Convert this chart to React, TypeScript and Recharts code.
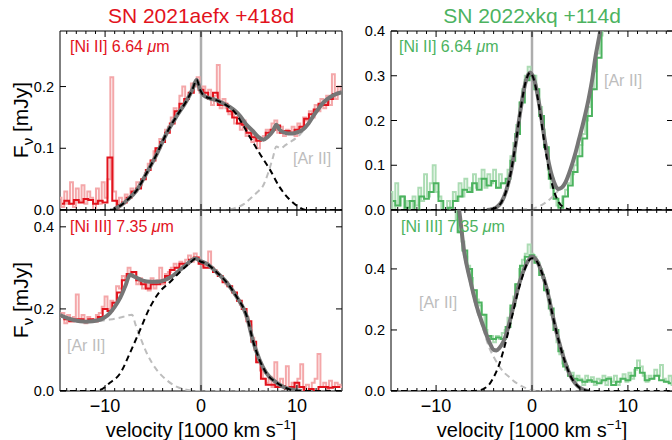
import React from 'react';
import { ComposedChart, Line, XAxis, YAxis, ReferenceLine, ReferenceArea } from 'recharts';

// velocity grids [1000 km/s]
const velocityFine = [
  -14.7, -14.4, -14.1, -13.8, -13.5, -13.2, -12.9, -12.6, -12.3, -12.0,
  -11.7, -11.4, -11.1, -10.8, -10.5, -10.2, -9.9, -9.6, -9.3, -9.0,
  -8.7, -8.4, -8.1, -7.8, -7.5, -7.2, -6.9, -6.6, -6.3, -6.0,
  -5.7, -5.4, -5.1, -4.8, -4.5, -4.2, -3.9, -3.6, -3.3, -3.0,
  -2.7, -2.4, -2.1, -1.8, -1.5, -1.2, -0.9, -0.6, -0.3, 0.0,
  0.3, 0.6, 0.9, 1.2, 1.5, 1.8, 2.1, 2.4, 2.7, 3.0,
  3.3, 3.6, 3.9, 4.2, 4.5, 4.8, 5.1, 5.4, 5.7, 6.0,
  6.3, 6.6, 6.9, 7.2, 7.5, 7.8, 8.1, 8.4, 8.7, 9.0,
  9.3, 9.6, 9.9, 10.2, 10.5, 10.8, 11.1, 11.4, 11.7, 12.0,
  12.3, 12.6, 12.9, 13.2, 13.5, 13.8, 14.1, 14.4, 14.7,
];

const velocityBinned = [
  -14.5, -14, -13.5, -13, -12.5, -12, -11.5, -11, -10.5, -10,
  -9.5, -9, -8.5, -8, -7.5, -7, -6.5, -6, -5.5, -5,
  -4.5, -4, -3.5, -3, -2.5, -2, -1.5, -1, -0.5, 0,
  0.5, 1, 1.5, 2, 2.5, 3, 3.5, 4, 4.5, 5,
  5.5, 6, 6.5, 7, 7.5, 8, 8.5, 9, 9.5, 10,
  10.5, 11, 11.5, 12, 12.5, 13, 13.5, 14, 14.5,
];

const xTicks = [
  -14, -13, -12, -11, -10, -9, -8, -7, -6, -5, -4, -3, -2, -1, 0,
  1, 2, 3, 4, 5, 6, 7, 8, 9, 10, 11, 12, 13, 14,
];
const xMajor = [-10, 0, 10];

// SN 2021aefx, [Ni II] 6.64 um
const fine21NiII = [
  0.02, 0.005, 0.03, 0.01, 0.045, 0.005, 0.035, 0.015, 0.04, 0.01,
  0.03, 0.02, 0.0, 0.035, 0.01, 0.045, 0.02, 0.05, 0.215, 0.03,
  0.0, 0.02, 0.01, 0.025, 0.02, 0.035, 0.03, 0.045, 0.04, 0.05,
  0.06, 0.075, 0.08, 0.095, 0.1, 0.115, 0.11, 0.13, 0.135, 0.15,
  0.165, 0.16, 0.185, 0.2, 0.18, 0.19, 0.205, 0.2, 0.215, 0.19,
  0.2, 0.185, 0.195, 0.17, 0.185, 0.235, 0.165, 0.18, 0.165, 0.155,
  0.16, 0.14, 0.15, 0.13, 0.145, 0.12, 0.125, 0.11, 0.12, 0.1,
  0.115, 0.12, 0.13, 0.125, 0.14, 0.145, 0.125, 0.135, 0.12, 0.13,
  0.125, 0.135, 0.12, 0.14, 0.13, 0.15, 0.145, 0.16, 0.15, 0.17,
  0.16, 0.18, 0.165, 0.185, 0.17, 0.22, 0.18, 0.2, 0.19,
];
const binned21NiII = [
  0.01, 0.015, 0.01, 0.016, 0.012, 0.018, 0.016, 0.01, 0.015, 0.012,
  0.085, 0.015, 0.008, 0.012, 0.02, 0.03, 0.035, 0.05, 0.065, 0.08,
  0.1, 0.11, 0.125, 0.14, 0.16, 0.172, 0.18, 0.19, 0.205, 0.195,
  0.19, 0.18, 0.19, 0.17, 0.172, 0.16, 0.15, 0.14, 0.138, 0.125,
  0.118, 0.112, 0.115, 0.125, 0.13, 0.137, 0.125, 0.128, 0.125, 0.13,
  0.135, 0.148, 0.155, 0.163, 0.172, 0.17, 0.18, 0.188, 0.19,
];
const ni21NiII = [
  [-14.7, 0], [-10, 0], [-9.1, 0.001], [-8.4, 0.007], [-7.7, 0.016], [-6.7, 0.032],
  [-5.7, 0.059], [-4.6, 0.091], [-3.6, 0.124], [-2.5, 0.153], [-1.5, 0.177],
  [-0.9, 0.195], [-0.45, 0.211], [-0.1, 0.195], [0.25, 0.186], [0.9, 0.181],
  [1.6, 0.178], [2.3, 0.173], [3.0, 0.166], [3.6, 0.157], [4.1, 0.145],
  [5.1, 0.118], [6.1, 0.092], [7.2, 0.065], [8.2, 0.037], [9.3, 0.016],
  [10.3, 0.004], [11, 0], [14.7, 0],
];
const total21NiII = [
  [-9.1, 0.001], [-8.4, 0.007], [-7.7, 0.016], [-6.7, 0.032], [-5.7, 0.059],
  [-4.6, 0.091], [-3.6, 0.124], [-2.5, 0.153], [-1.5, 0.177], [-0.9, 0.195],
  [-0.45, 0.211], [-0.1, 0.195], [0.25, 0.186], [0.9, 0.181], [1.6, 0.178],
  [2.3, 0.173], [3.0, 0.167], [3.6, 0.16], [4.1, 0.152], [4.7, 0.139],
  [5.4, 0.128], [6.0, 0.118], [6.5, 0.114], [7.0, 0.119], [7.5, 0.128],
  [7.85, 0.138], [8.2, 0.13], [8.6, 0.126], [9.1, 0.124], [9.6, 0.124],
  [10.1, 0.126], [10.6, 0.13], [11.2, 0.14], [11.7, 0.152], [12.2, 0.163],
  [12.7, 0.173], [13.2, 0.18], [13.8, 0.186], [14.7, 0.191],
];
const ar21NiII = [
  [-14.7, 0], [2.5, 0], [3.5, 0.003], [4.5, 0.01], [5.1, 0.018], [5.8, 0.028],
  [6.5, 0.04], [7.0, 0.06], [7.5, 0.085], [7.85, 0.103], [8.3, 0.1], [8.8, 0.105],
  [9.3, 0.11], [10.3, 0.122], [11.2, 0.14], [11.7, 0.152], [12.2, 0.163],
  [12.7, 0.173], [13.2, 0.18], [13.8, 0.186], [14.7, 0.191],
];

// SN 2022xkq, [Ni II] 6.64 um
const fine22NiII = [
  0.04, 0.0, 0.06, 0.01, 0.03, 0.0, 0.02, -0.01, 0.03, 0.01,
  0.05, 0.02, 0.08, 0.03, 0.06, 0.1, 0.04, 0.03, 0.0, -0.01,
  0.02, 0.0, 0.04, 0.02, 0.06, 0.03, 0.07, 0.05, 0.04, 0.08,
  0.05, 0.07, 0.09, 0.05, 0.08, 0.06, 0.09, 0.05, 0.08, 0.06,
  0.06, 0.09, 0.12, 0.15, 0.19, 0.24, 0.27, 0.3, 0.32, 0.3,
  0.3, 0.27, 0.23, 0.18, 0.14, 0.09, 0.05, 0.025, 0.01, 0.015,
  0.03, 0.045, 0.06, 0.08, 0.1, 0.12, 0.145, 0.17, 0.2, 0.23,
  0.27, 0.31, 0.35, 0.39, 0.44, 0.5, 0.55, 0.6, 0.6, 0.6,
  0.6, 0.6, 0.6, 0.6, 0.6, 0.6, 0.6, 0.6, 0.6, 0.6,
  0.6, 0.6, 0.6, 0.6, 0.6, 0.6, 0.6, 0.6, 0.6,
];
const binned22NiII = [
  0.02, 0.01, 0.03, 0.005, 0.02, 0.0, 0.03, 0.025, 0.04, 0.06,
  0.02, 0.0, 0.005, 0.02, 0.03, 0.045, 0.04, 0.06, 0.045, 0.07,
  0.055, 0.065, 0.05, 0.06, 0.07, 0.11, 0.17, 0.24, 0.29, 0.3,
  0.27, 0.21, 0.14, 0.07, 0.025, 0.005, 0.03, 0.055, 0.085, 0.12,
  0.16, 0.21, 0.27, 0.34, 0.41, 0.48, 0.5, 0.5, 0.5, 0.5,
  0.5, 0.5, 0.5, 0.5, 0.5, 0.5, 0.5, 0.5, 0.5,
];
const ni22NiII = [
  [-14.7, 0], [-4.7, 0], [-4.2, 0.002], [-3.7, 0.006], [-3.2, 0.017], [-2.7, 0.042],
  [-2.2, 0.085], [-1.7, 0.149], [-1.2, 0.223], [-0.7, 0.283], [-0.2, 0.307],
  [0.3, 0.283], [0.8, 0.223], [1.3, 0.149], [1.8, 0.085], [2.3, 0.042],
  [2.8, 0.017], [3.3, 0.006], [3.8, 0.002], [4.3, 0], [14.7, 0],
];
const total22NiII = [
  [-4.7, 0], [-4.2, 0.002], [-3.7, 0.006], [-3.2, 0.017], [-2.7, 0.042],
  [-2.2, 0.085], [-1.7, 0.149], [-1.2, 0.223], [-0.7, 0.283], [-0.2, 0.307],
  [0.3, 0.286], [0.8, 0.23], [1.3, 0.16], [1.8, 0.1], [2.3, 0.062],
  [2.7, 0.047], [3.1, 0.05], [3.5, 0.062], [4.0, 0.09], [4.5, 0.125],
  [4.9, 0.158], [5.4, 0.2], [5.9, 0.248], [6.3, 0.295], [6.6, 0.34],
  [6.9, 0.375], [7.2, 0.41], [7.6, 0.46], [8.0, 0.52],
];
const ar22NiII = [
  [-14.7, 0], [-2, 0], [-1, 0.001], [0, 0.003], [0.5, 0.006], [1.0, 0.011],
  [1.5, 0.018], [2.0, 0.027], [2.5, 0.038], [3.0, 0.05], [3.5, 0.06], [4.0, 0.088],
  [4.5, 0.124], [4.9, 0.158], [5.4, 0.2], [5.9, 0.248], [6.3, 0.295], [6.6, 0.34],
  [6.9, 0.375], [7.2, 0.41], [7.6, 0.46], [8.0, 0.52],
];

// SN 2021aefx, [Ni III] 7.35 um
const fine21NiIII = [
  0.18, 0.19, 0.165, 0.185, 0.17, 0.18, 0.235, 0.175, 0.185, 0.165,
  0.18, 0.17, 0.175, 0.185, 0.19, 0.205, 0.23, 0.2, 0.22, 0.215,
  0.255, 0.25, 0.28, 0.27, 0.3, 0.285, 0.29, 0.26, 0.275, 0.25,
  0.26, 0.245, 0.275, 0.25, 0.27, 0.3, 0.26, 0.285, 0.29, 0.3,
  0.31, 0.3, 0.315, 0.305, 0.32, 0.33, 0.315, 0.335, 0.325, 0.31,
  0.305, 0.31, 0.34, 0.3, 0.295, 0.285, 0.28, 0.27, 0.26, 0.255,
  0.245, 0.235, 0.22, 0.21, 0.2, 0.18, 0.16, 0.13, 0.1, 0.07,
  0.05, 0.03, 0.02, 0.035, 0.01, 0.07, 0.015, 0.03, 0.01, 0.06,
  0.005, 0.02, 0.01, 0.03, 0.065, 0.0, 0.015, 0.005, 0.02, 0.03,
  0.09, 0.01, 0.02, 0.005, 0.025, 0.01, 0.02, 0.015, 0.01,
];
const binned21NiIII = [
  0.18, 0.175, 0.17, 0.175, 0.175, 0.17, 0.175, 0.17, 0.18, 0.2,
  0.195, 0.215, 0.24, 0.27, 0.285, 0.29, 0.27, 0.26, 0.25, 0.26,
  0.26, 0.265, 0.28, 0.295, 0.3, 0.31, 0.31, 0.32, 0.325, 0.31,
  0.3, 0.3, 0.29, 0.28, 0.265, 0.255, 0.24, 0.22, 0.2, 0.17,
  0.12, 0.07, 0.03, 0.015, 0.015, 0.01, 0.012, 0.005, 0.01, 0.02,
  0.01, 0.0, 0.005, 0.0, 0.01, 0.01, 0.008, 0.01, 0.01,
];
const ni21NiIII = [
  [-14.7, 0], [-11.5, 0], [-10.5, 0.003], [-9.5, 0.02], [-8.4, 0.044], [-7.4, 0.093],
  [-6.35, 0.149], [-5.3, 0.205], [-4.3, 0.242], [-3.2, 0.266], [-2.2, 0.29],
  [-1.15, 0.312], [-0.6, 0.322], [0.0, 0.315], [0.6, 0.31], [1.6, 0.29],
  [2.7, 0.264], [3.7, 0.23], [4.8, 0.18], [5.4, 0.124], [6.1, 0.076],
  [6.8, 0.044], [7.9, 0.02], [8.9, 0.007], [10, 0], [14.7, 0],
];
const total21NiIII = [
  [-14.7, 0.185], [-14, 0.178], [-13.3, 0.173], [-12.6, 0.17], [-12, 0.169],
  [-11.3, 0.17], [-10.5, 0.174], [-10, 0.18], [-9.5, 0.19], [-9, 0.205],
  [-8.4, 0.228], [-7.9, 0.255], [-7.4, 0.283], [-7.0, 0.279], [-6.7, 0.276],
  [-6.2, 0.27], [-5.65, 0.267], [-5, 0.266], [-4.3, 0.267], [-3.7, 0.271],
  [-3.2, 0.277], [-2.7, 0.285], [-2.2, 0.295], [-1.65, 0.305], [-1.15, 0.315],
  [-0.6, 0.323], [0.0, 0.316], [0.6, 0.31], [1.6, 0.29], [2.7, 0.264],
  [3.7, 0.23], [4.8, 0.18], [5.4, 0.124], [6.1, 0.076], [6.8, 0.044],
  [7.9, 0.02], [8.9, 0.007], [10.5, 0],
];
const ar21NiIII = [
  [-14.7, 0.185], [-14, 0.178], [-13.3, 0.173], [-12.6, 0.17], [-12, 0.168],
  [-11.3, 0.169], [-10.5, 0.171], [-9.5, 0.174], [-8.4, 0.179], [-7.8, 0.183],
  [-7.2, 0.186], [-6.8, 0.16], [-6.35, 0.132], [-5.65, 0.092], [-5.1, 0.068],
  [-4.6, 0.051], [-3.6, 0.027], [-2.5, 0.01], [-1.5, 0.003], [-0.5, 0], [14.7, 0],
];

// SN 2022xkq, [Ni III] 7.35 um
const fine22NiIII = [
  0.7, 0.7, 0.7, 0.7, 0.7, 0.7, 0.7, 0.7, 0.7, 0.7,
  0.7, 0.7, 0.7, 0.7, 0.7, 0.7, 0.7, 0.7, 0.7, 0.7,
  0.68, 0.63, 0.6, 0.56, 0.52, 0.49, 0.44, 0.41, 0.37, 0.33,
  0.3, 0.28, 0.25, 0.2, 0.17, 0.18, 0.16, 0.18, 0.17, 0.19,
  0.2, 0.24, 0.27, 0.31, 0.35, 0.4, 0.43, 0.45, 0.48, 0.45,
  0.44, 0.42, 0.4, 0.37, 0.33, 0.3, 0.25, 0.2, 0.16, 0.12,
  0.09, 0.07, 0.05, 0.06, 0.03, 0.05, 0.04, 0.02, 0.05, 0.03,
  0.045, 0.02, 0.04, 0.03, 0.05, 0.02, 0.045, 0.03, 0.05, 0.02,
  0.04, 0.055, 0.03, 0.06, 0.04, 0.07, 0.1, 0.08, 0.05, 0.03,
  0.05, 0.04, 0.07, 0.05, 0.085, 0.04, 0.03, 0.05, 0.02,
];
const binned22NiIII = [
  0.7, 0.7, 0.7, 0.7, 0.7, 0.7, 0.7, 0.7, 0.7, 0.7,
  0.7, 0.7, 0.7, 0.6, 0.52, 0.46, 0.4, 0.33, 0.29, 0.25,
  0.18, 0.17, 0.175, 0.17, 0.21, 0.28, 0.35, 0.41, 0.44, 0.445,
  0.42, 0.38, 0.33, 0.27, 0.2, 0.13, 0.08, 0.05, 0.04, 0.035,
  0.03, 0.035, 0.03, 0.025, 0.035, 0.04, 0.02, 0.03, 0.04, 0.035,
  0.05, 0.075, 0.06, 0.035, 0.04, 0.05, 0.035, 0.03, 0.025,
];
const ni22NiIII = [
  [-14.7, 0], [-6, 0], [-5.5, 0.002], [-5, 0.008], [-4.5, 0.02], [-4, 0.045],
  [-3.5, 0.08], [-3, 0.13], [-2.5, 0.19], [-2, 0.255], [-1.5, 0.32], [-1, 0.375],
  [-0.5, 0.418], [0, 0.435], [0.5, 0.425], [1, 0.39], [1.5, 0.34], [2, 0.27],
  [2.5, 0.2], [3, 0.14], [3.5, 0.09], [4, 0.05], [4.5, 0.025], [5, 0.01],
  [5.5, 0.003], [6, 0], [14.7, 0],
];
const total22NiIII = [
  [-7.8, 0.63], [-7.6, 0.593], [-7.1, 0.462], [-6.45, 0.364], [-5.75, 0.276],
  [-5.05, 0.21], [-4.4, 0.157], [-4.0, 0.135], [-3.7, 0.133], [-3.4, 0.141],
  [-3.0, 0.16], [-2.65, 0.19], [-2.3, 0.23], [-1.95, 0.275], [-1.3, 0.355],
  [-0.6, 0.415], [0, 0.44], [0.5, 0.427], [1, 0.39], [1.5, 0.34], [2, 0.27],
  [2.5, 0.2], [3, 0.14], [3.5, 0.09], [4, 0.05], [4.5, 0.025], [5, 0.01],
  [5.5, 0.003], [6, 0],
];
const ar22NiIII = [
  [-7.8, 0.62], [-7.6, 0.585], [-7.1, 0.455], [-6.45, 0.355], [-5.75, 0.265],
  [-5.05, 0.2], [-4.5, 0.145], [-4.0, 0.112], [-3.4, 0.08], [-2.9, 0.06],
  [-2.35, 0.045], [-1.8, 0.03], [-1.3, 0.02], [-0.7, 0.01], [-0.2, 0.004],
  [0.5, 0], [14.7, 0],
];

const FONT = '"Liberation Sans", Arial, Helvetica, sans-serif';
const RED = '#e2121c';
const RED_LIGHT = '#f4a7a9';
const GREEN = '#4cb35f';
const GREEN_LIGHT = '#acdcb4';
const AR_GREY = '#bdbdbd';
const X_DOMAIN: [number, number] = [-14.7, 14.7];

const PLOT_W = 282;
const ML = 60;
const MR = 12;
const MT = 10;
const MB = 36;

const toSpectrum = (vel: number[], flux: number[]) => vel.map((v, i) => ({ v, f: flux[i] }));
const toCurve = (pairs: number[][]) => pairs.map(([v, f]) => ({ v, f }));
const fmtX = (v: number) => (v < 0 ? `\u2212${Math.abs(v)}` : `${v}`);

const XTick = (props: any) => {
  const { x, y, payload, plotH, showLabel } = props;
  const major = xMajor.includes(payload.value);
  const len = major ? 6 : 3;
  return (
    <g>
      <line x1={x} x2={x} y1={y} y2={y - len} stroke="#000" strokeWidth={1} />
      <line x1={x} x2={x} y1={y - plotH} y2={y - plotH + len} stroke="#000" strokeWidth={1} />
      {showLabel && major && (
        <text x={x} y={y + 21} textAnchor="middle" fontSize={18} fontFamily={FONT} fill="#000">
          {fmtX(payload.value)}
        </text>
      )}
    </g>
  );
};

const YTick = (props: any) => {
  const { x, y, payload, majors } = props;
  const major = majors.includes(payload.value);
  const len = major ? 6 : 3;
  return (
    <g>
      <line x1={x} x2={x + len} y1={y} y2={y} stroke="#000" strokeWidth={1} />
      <line x1={x + PLOT_W} x2={x + PLOT_W - len} y1={y} y2={y} stroke="#000" strokeWidth={1} />
      {major && (
        <text x={x - 6} y={y + 5} textAnchor="end" fontSize={14.5} fontFamily={FONT} fill="#000">
          {payload.value.toFixed(1)}
        </text>
      )}
    </g>
  );
};

interface PanelProps {
  left: number;
  top: number;
  height: number;
  yMax: number;
  yTicks: number[];
  yMajor: number[];
  fine: number[];
  binned: number[];
  ni: number[][];
  total: number[][];
  ar: number[][];
  light: string;
  dark: string;
  xLabels: boolean;
}

const Panel = (p: PanelProps) => (
  <div style={{ position: 'absolute', left: p.left - ML, top: p.top - MT }}>
    <ComposedChart
      width={PLOT_W + ML + MR}
      height={p.height + MT + MB}
      margin={{ top: MT, right: MR, bottom: MB - 1, left: ML - 1 }}
    >
      <XAxis
        type="number"
        dataKey="v"
        domain={X_DOMAIN}
        allowDataOverflow
        ticks={xTicks}
        interval={0}
        height={1}
        tickSize={0}
        tickMargin={0}
        tickLine={false}
        axisLine={false}
        tick={(t: any) => <XTick {...t} plotH={p.height} showLabel={p.xLabels} />}
      />
      <YAxis
        type="number"
        domain={[0, p.yMax]}
        allowDataOverflow
        ticks={p.yTicks}
        interval={0}
        width={1}
        tickSize={0}
        tickMargin={0}
        tickLine={false}
        axisLine={false}
        tick={(t: any) => <YTick {...t} majors={p.yMajor} />}
      />
      <ReferenceLine x={0} stroke="#adadad" strokeWidth={2.5} />
      <Line data={toSpectrum(velocityFine, p.fine)} dataKey="f" type="step" stroke={p.light} strokeWidth={2} dot={false} isAnimationActive={false} />
      <Line data={toSpectrum(velocityBinned, p.binned)} dataKey="f" type="step" stroke={p.dark} strokeWidth={2} dot={false} isAnimationActive={false} />
      <Line data={toCurve(p.ar)} dataKey="f" type="monotone" stroke={AR_GREY} strokeWidth={2} strokeDasharray="6 4" dot={false} isAnimationActive={false} />
      <Line data={toCurve(p.total)} dataKey="f" type="monotone" stroke="#767676" strokeWidth={4} dot={false} isAnimationActive={false} />
      <Line data={toCurve(p.ni)} dataKey="f" type="monotone" stroke="#000" strokeWidth={2} strokeDasharray="6 4" dot={false} isAnimationActive={false} />
      <ReferenceArea x1={X_DOMAIN[0]} x2={X_DOMAIN[1]} y1={0} y2={p.yMax} fill="none" stroke="#000" strokeWidth={1} />
    </ComposedChart>
  </div>
);

const Labels = () => (
  <svg width={672} height={440} style={{ position: 'absolute', left: 0, top: 0, pointerEvents: 'none' }} fontFamily={FONT}>
    <text x={201} y={23} textAnchor="middle" fontSize={21} fill={RED}>SN 2021aefx +418d</text>
    <text x={532} y={23} textAnchor="middle" fontSize={21} fill={GREEN}>SN 2022xkq +114d</text>

    <text x={70} y={52} fontSize={16} fill={RED}>[Ni II] 6.64 <tspan fontStyle="italic">μ</tspan>m</text>
    <text x={399} y={52} fontSize={16} fill={GREEN}>[Ni II] 6.64 <tspan fontStyle="italic">μ</tspan>m</text>
    <text x={70} y={232} fontSize={16} fill={RED}>[Ni III] 7.35 <tspan fontStyle="italic">μ</tspan>m</text>
    <text x={401} y={232} fontSize={16} fill={GREEN}>[Ni III] 7.35 <tspan fontStyle="italic">μ</tspan>m</text>

    <text x={293} y={164} fontSize={16} fill={AR_GREY}>[Ar II]</text>
    <text x={604} y={86} fontSize={16} fill={AR_GREY}>[Ar II]</text>
    <text x={67} y={351} fontSize={16} fill={AR_GREY}>[Ar II]</text>
    <text x={419} y={308} fontSize={16} fill={AR_GREY}>[Ar II]</text>

    {[120, 300].map((cy) => (
      <text key={cy} x={28} y={cy} textAnchor="middle" fontSize={21} transform={`rotate(-90 28 ${cy})`} fill="#000">
        F<tspan dy={5} fontSize={15}>ν</tspan><tspan dy={-5}> [mJy]</tspan>
      </text>
    ))}
    {[201, 532].map((cx) => (
      <text key={cx} x={cx} y={437} textAnchor="middle" fontSize={20} fill="#000">
        velocity [1000 km s<tspan dy={-8} fontSize={13}>−1</tspan><tspan dy={8}>]</tspan>
      </text>
    ))}
  </svg>
);

export default function App() {
  return (
    <div style={{ position: 'absolute', left: 0, top: 0, width: 672, height: 440, overflow: 'hidden', background: '#fff' }}>
      <Panel left={60} top={31} height={179} yMax={0.29} yTicks={[0, 0.1, 0.2]} yMajor={[0, 0.1, 0.2]}
        fine={fine21NiII} binned={binned21NiII} ni={ni21NiII} total={total21NiII} ar={ar21NiII}
        light={RED_LIGHT} dark={RED} xLabels={false} />
      <Panel left={391} top={31} height={179} yMax={0.4} yTicks={[0, 0.1, 0.2, 0.3, 0.4]} yMajor={[0, 0.1, 0.2, 0.3, 0.4]}
        fine={fine22NiII} binned={binned22NiII} ni={ni22NiII} total={total22NiII} ar={ar22NiII}
        light={GREEN_LIGHT} dark={GREEN} xLabels={false} />
      <Panel left={60} top={210} height={181} yMax={0.441} yTicks={[0, 0.2, 0.4]} yMajor={[0, 0.2, 0.4]}
        fine={fine21NiIII} binned={binned21NiIII} ni={ni21NiIII} total={total21NiIII} ar={ar21NiIII}
        light={RED_LIGHT} dark={RED} xLabels />
      <Panel left={391} top={210} height={181} yMax={0.593} yTicks={[0, 0.2, 0.4]} yMajor={[0, 0.2, 0.4]}
        fine={fine22NiIII} binned={binned22NiIII} ni={ni22NiIII} total={total22NiIII} ar={ar22NiIII}
        light={GREEN_LIGHT} dark={GREEN} xLabels />
      <Labels />
    </div>
  );
}
